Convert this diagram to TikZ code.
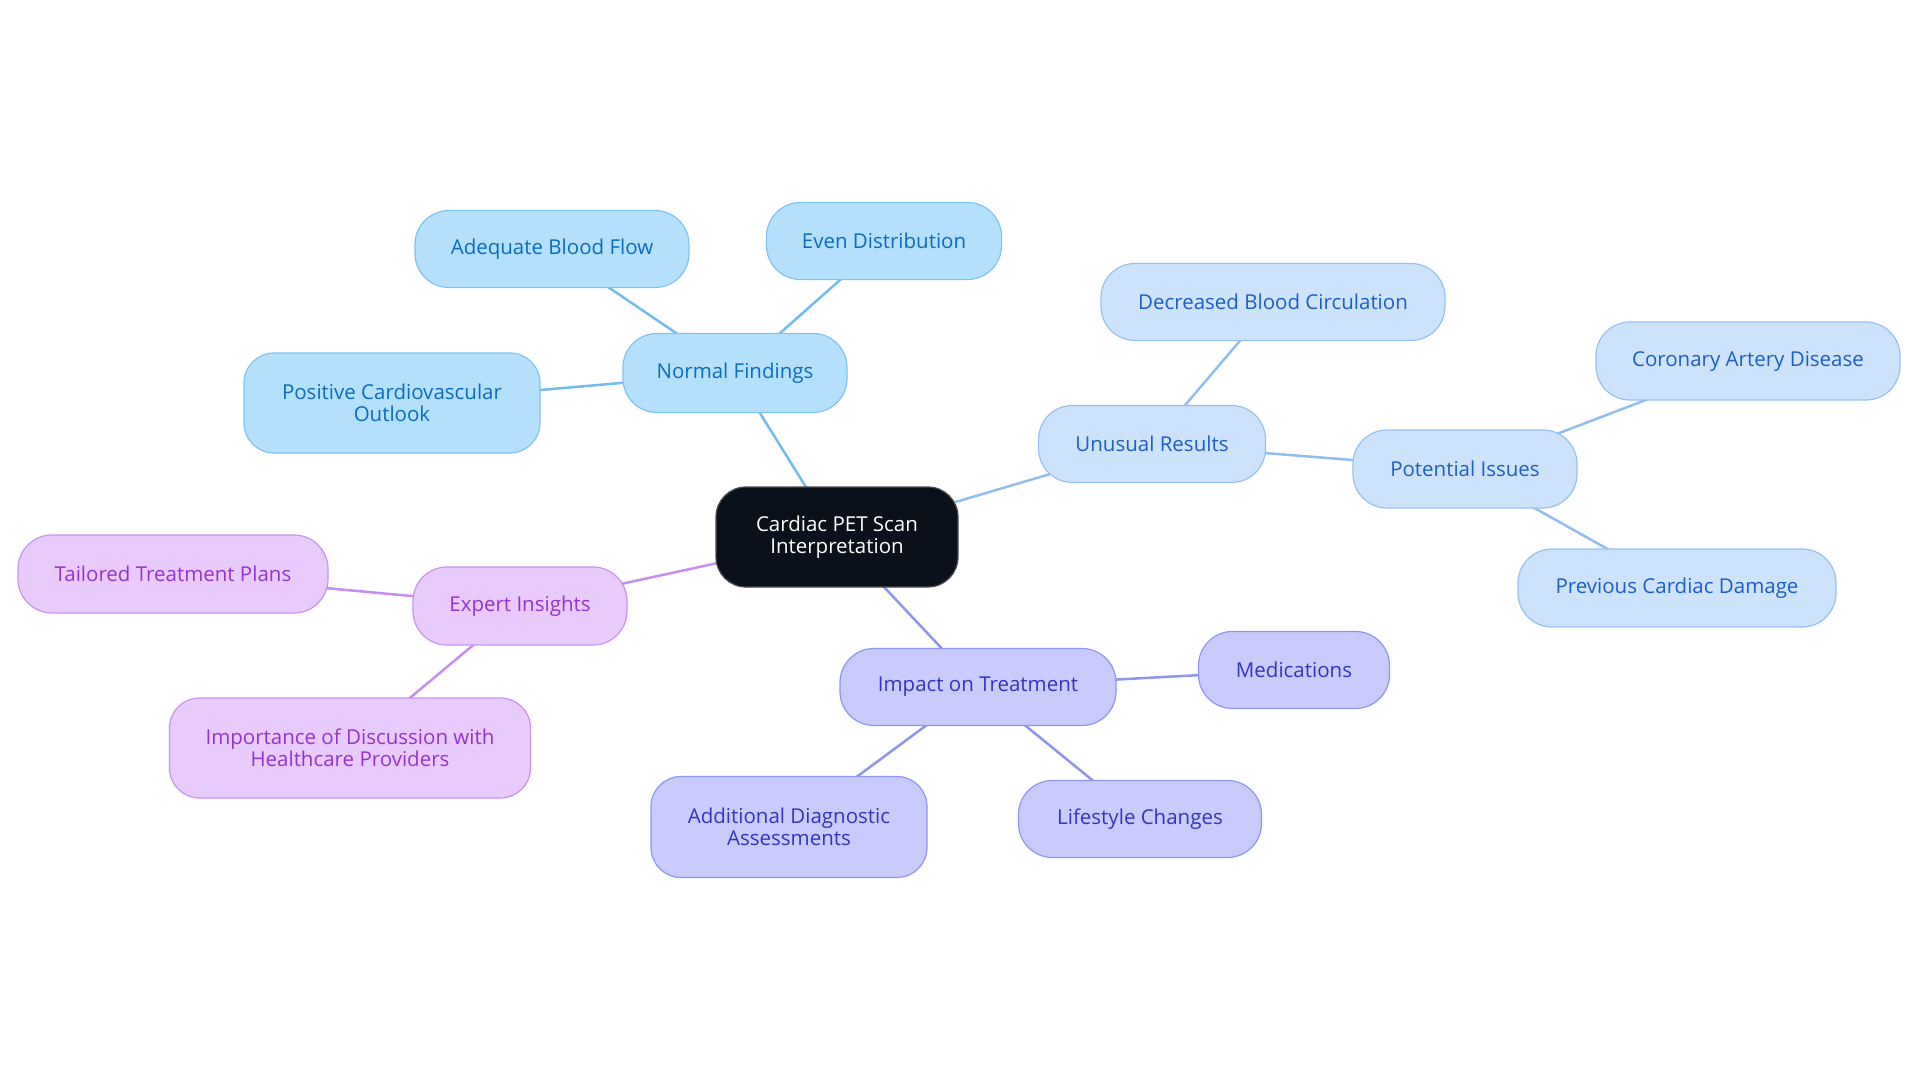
\documentclass[tikz,border=0pt]{standalone}
\usepackage{fontspec}
\setmainfont{Open Sans}
\usetikzlibrary{backgrounds}
\definecolor{bfill}{HTML}{B5E0FD}
\definecolor{bdraw}{HTML}{7EC3F2}
\definecolor{btext}{HTML}{0B6BBF}
\definecolor{bline}{HTML}{72BCEE}
\definecolor{ufill}{HTML}{CDE3FB}
\definecolor{udraw}{HTML}{96C2F1}
\definecolor{utext}{HTML}{1A5FC8}
\definecolor{uline}{HTML}{92BDEF}
\definecolor{ifill}{HTML}{C8CBFC}
\definecolor{idraw}{HTML}{8E97F1}
\definecolor{itext}{HTML}{3333C4}
\definecolor{iline}{HTML}{8D95F0}
\definecolor{efill}{HTML}{E8CBFC}
\definecolor{edraw}{HTML}{C991F0}
\definecolor{etext}{HTML}{9234D2}
\definecolor{eline}{HTML}{C58EF0}
\definecolor{cfill}{HTML}{0B111A}
\tikzset{
  base/.style={rounded corners=34pt, line width=1.2pt, align=center, inner sep=0pt,
    font=\fontsize{20.5}{22.5}\selectfont},
  bnode/.style={base, fill=bfill, draw=bdraw, text=btext},
  unode/.style={base, fill=ufill, draw=udraw, text=utext},
  inode/.style={base, fill=ifill, draw=idraw, text=itext},
  enode/.style={base, fill=efill, draw=edraw, text=etext},
  cnode/.style={base, rounded corners=30pt, fill=cfill, draw=black!70, text=white},
  bl/.style={draw=bline, line width=2.5pt},
  ul/.style={draw=uline, line width=2.5pt},
  il/.style={draw=iline, line width=2.5pt},
  el/.style={draw=eline, line width=2.5pt},
}
\begin{document}
\begin{tikzpicture}[x=1pt,y=-1pt]
\useasboundingbox (0,0) rectangle (1920,1083);
% nodes
\node[cnode, minimum width=242pt, minimum height=100pt] (c) at (837,537) {Cardiac PET Scan\\Interpretation};
\node[bnode, minimum width=224pt, minimum height=79pt] (nf) at (735,373) {Normal Findings};
\node[bnode, minimum width=274pt, minimum height=77pt] (abf) at (552,249) {Adequate Blood Flow};
\node[bnode, minimum width=235pt, minimum height=77pt] (ed) at (884,241) {Even Distribution};
\node[bnode, minimum width=296pt, minimum height=100pt, rounded corners=30pt] (pco) at (392,403) {Positive Cardiovascular\\Outlook};
\node[unode, minimum width=227pt, minimum height=77pt] (ur) at (1152,444) {Unusual Results};
\node[unode, minimum width=344pt, minimum height=77pt] (dbc) at (1273,302) {Decreased Blood Circulation};
\node[unode, minimum width=224pt, minimum height=78pt] (pi) at (1465,469) {Potential Issues};
\node[unode, minimum width=304pt, minimum height=78pt] (cad) at (1748,361) {Coronary Artery Disease};
\node[unode, minimum width=318pt, minimum height=78pt] (pcd) at (1677,588) {Previous Cardiac Damage};
\node[enode, minimum width=214pt, minimum height=78pt] (ei) at (520,606) {Expert Insights};
\node[enode, minimum width=310pt, minimum height=78pt] (ttp) at (173,574) {Tailored Treatment Plans};
\node[enode, minimum width=361pt, minimum height=100pt, rounded corners=30pt] (idh) at (350,748) {Importance of Discussion with\\Healthcare Providers};
\node[inode, minimum width=276pt, minimum height=77pt] (it) at (978,687) {Impact on Treatment};
\node[inode, minimum width=191pt, minimum height=77pt] (med) at (1294,670) {Medications};
\node[inode, minimum width=243pt, minimum height=77pt] (lc) at (1140,819) {Lifestyle Changes};
\node[inode, minimum width=276pt, minimum height=101pt, rounded corners=30pt] (ada) at (789,827) {Additional Diagnostic\\Assessments};
% edges
\begin{scope}[on background layer]
\draw[bl] (c.center) -- (nf.center);
\draw[bl] (nf.center) -- (abf.center);
\draw[bl] (nf.center) -- (ed.center);
\draw[bl] (nf.center) -- (pco.center);
\draw[ul] (c.center) -- (ur.center);
\draw[ul] (ur.center) -- (dbc.center);
\draw[ul] (ur.center) -- (pi.center);
\draw[ul] (pi.center) -- (cad.center);
\draw[ul] (pi.center) -- (pcd.center);
\draw[el] (c.center) -- (ei.center);
\draw[el] (ei.center) -- (ttp.center);
\draw[el] (ei.center) -- (idh.center);
\draw[il] (c.center) -- (it.center);
\draw[il] (it.center) -- (med.center);
\draw[il] (it.center) -- (lc.center);
\draw[il] (it.center) -- (ada.center);
\end{scope}
\end{tikzpicture}
\end{document}
